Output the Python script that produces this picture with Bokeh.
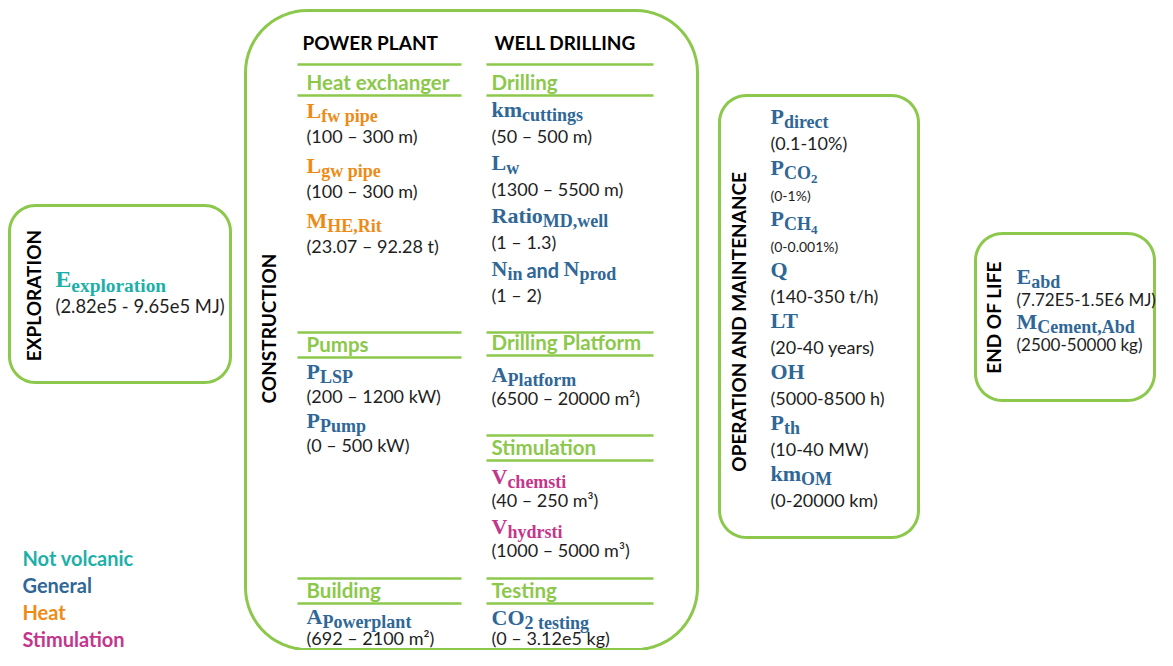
import numpy as np
from bokeh.plotting import figure
from bokeh.models import Range1d
from bokeh.core.properties import value
from bokeh.embed import file_html
from bokeh.resources import INLINE

# ---------------- data ----------------
legend_labels = ["Not volcanic", "General", "Heat", "Stimulation"]
legend_colors = ["#1DB0A8", "#2F6796", "#EE8B16", "#C4368C"]

phase_labels = ["EXPLORATION", "CONSTRUCTION", "OPERATION AND MAINTENANCE", "END OF LIFE"]
construction_columns = ["POWER PLANT", "WELL DRILLING"]
power_plant_sections = ["Heat exchanger", "Pumps", "Building"]
well_drilling_sections = ["Drilling", "Drilling Platform", "Stimulation", "Testing"]

exploration_symbols = ["E_{exploration}"]
exploration_ranges = ["(2.82e5 - 9.65e5 MJ)"]
exploration_groups = ["Not volcanic"]

heat_exchanger_symbols = ["L_{fw pipe}", "L_{gw pipe}", "M_{HE,Rit}"]
heat_exchanger_ranges = ["(100 – 300 m)", "(100 – 300 m)", "(23.07 – 92.28 t)"]
heat_exchanger_groups = ["Heat", "Heat", "Heat"]

pumps_symbols = ["P_{LSP}", "P_{Pump}"]
pumps_ranges = ["(200 – 1200 kW)", "(0 – 500 kW)"]
pumps_groups = ["General", "General"]

building_symbols = ["A_{Powerplant}"]
building_ranges = ["(692 – 2100 m²)"]
building_groups = ["General"]

drilling_symbols = ["km_{cuttings}", "L_{w}", "Ratio_{MD,well}", "N_{in}~{ and }N_{prod}"]
drilling_ranges = ["(50 – 500 m)", "(1300 – 5500 m)", "(1 – 1.3)", "(1 – 2)"]
drilling_groups = ["General", "General", "General", "General"]

platform_symbols = ["A_{Platform}"]
platform_ranges = ["(6500 – 20000 m²)"]
platform_groups = ["General"]

stimulation_symbols = ["V_{chemsti}", "V_{hydrsti}"]
stimulation_ranges = ["(40 – 250 m³)", "(1000 – 5000 m³)"]
stimulation_groups = ["Stimulation", "Stimulation"]

testing_symbols = ["CO_{2 testing}"]
testing_ranges = ["(0 – 3.12e5 kg)"]
testing_groups = ["General"]

om_symbols = ["P_{direct}", "P_{CO_{2}}", "P_{CH_{4}}", "Q", "LT", "OH", "P_{th}", "km_{OM}"]
om_ranges = ["(0.1-10%)", "(0-1%)", "(0-0.001%)", "(140-350 t/h)", "(20-40 years)",
             "(5000-8500 h)", "(10-40 MW)", "(0-20000 km)"]
om_groups = ["General"] * 8

eol_symbols = ["E_{abd}", "M_{Cement,Abd}"]
eol_ranges = ["(7.72E5-1.5E6 MJ)", "(2500-50000 kg)"]
eol_groups = ["General", "General"]

# ---------------- styles / layout ----------------
GREEN = "#8CC84B"
TEXT = "#1E1E1E"
SERIF = "Liberation Serif"
SANS = "Lato"
group_color = dict(zip(legend_labels, legend_colors))

TB = {' ': 250, '(': 333, ')': 333, ',': 250, '.': 250,
      'A': 722, 'B': 667, 'C': 722, 'D': 722, 'E': 667, 'F': 611, 'G': 778, 'H': 778, 'I': 389,
      'J': 500, 'K': 778, 'L': 667, 'M': 944, 'N': 722, 'O': 778, 'P': 611, 'Q': 778, 'R': 722,
      'S': 556, 'T': 667, 'U': 722, 'V': 722, 'W': 1000, 'X': 722, 'Y': 722, 'Z': 667,
      'a': 500, 'b': 556, 'c': 444, 'd': 556, 'e': 444, 'f': 333, 'g': 500, 'h': 556, 'i': 278,
      'j': 333, 'k': 556, 'l': 278, 'm': 833, 'n': 556, 'o': 500, 'p': 556, 'q': 556, 'r': 444,
      's': 389, 't': 333, 'u': 556, 'v': 500, 'w': 722, 'x': 500, 'y': 500, 'z': 444}
LB = {' ': 0.20, 'a': 0.52, 'n': 0.57, 'd': 0.57}

SIZES = {"m": 22, "s": 18, "ss": 13, "t": 20}
DROP = {"m": 0, "s": 4, "ss": 8, "t": 0}
RANGE_SIZE = 18
LIFT = 0.4  # renderer places the alphabetic baseline ~0.4 em lower


def ty(baseline, size):
    return baseline - LIFT * size


def parse(sym):
    segs, stack, buf, i = [], ["m"], "", 0
    while i < len(sym):
        c = sym[i]
        if c in "_~" and i + 1 < len(sym) and sym[i + 1] == "{":
            if buf:
                segs.append((buf, stack[-1]))
            buf = ""
            stack.append("t" if c == "~" else ("s" if stack[-1] == "m" else "ss"))
            i += 2
            continue
        if c == "}":
            if buf:
                segs.append((buf, stack[-1]))
            buf = ""
            stack.pop()
            i += 1
            continue
        buf += c
        i += 1
    if buf:
        segs.append((buf, stack[-1]))
    return segs


def seg_width(t, kind, scale):
    size = SIZES[kind] * scale
    if kind == "t":
        return sum(LB.get(c, 0.55) for c in t) * size
    return sum(TB.get(c, 500) for c in t) / 1000.0 * size


p = figure(width=1157, height=650, x_range=Range1d(0, 1157), y_range=Range1d(650, 0),
           output_backend="svg", toolbar_location=None, min_border=0)
p.axis.visible = False
p.grid.visible = False
p.outline_line_color = None
p.background_fill_color = "white"


def rounded_box(x0, y0, x1, y1, r, n=16):
    xs, ys = [], []
    for cx, cy, a0 in [(x0 + r, y0 + r, 180), (x1 - r, y0 + r, 270),
                       (x1 - r, y1 - r, 0), (x0 + r, y1 - r, 90)]:
        t = np.radians(np.linspace(a0, a0 + 90, n))
        xs.extend(cx + r * np.cos(t))
        ys.extend(cy + r * np.sin(t))
    return xs, ys


boxes = [(9, 205, 230, 382, 26), (245, 10, 697, 649, 62),
         (719, 95, 918, 537, 27), (975, 233, 1154, 400, 27)]
for b in boxes:
    bx, by = rounded_box(*b)
    p.patch(bx, by, fill_color=None, line_color=GREEN, line_width=3)

# vertical phase labels
phase_pos_x = [33, 268, 738, 993]
phase_pos_y = [295, 328, 321, 317]
p.text(x=phase_pos_x, y=phase_pos_y, text=phase_labels, angle=np.pi / 2,
       text_align="center", text_baseline="middle", text_font=value(SANS),
       text_font_style="bold", text_font_size="19px", text_color="black")

# construction column headings
p.text(x=[302, 494], y=[ty(50, 19)] * 2, text=construction_columns, text_font=value(SANS),
       text_font_style="bold", text_font_size="19px", text_color="black",
       text_baseline="alphabetic")

# section header lines & titles
SEC = 20.5
col_text_x = [306, 491]
col_line_x = [(297, 461), (486, 653)]
section_lines = [[(64, 95), (332, 357), (578, 603)],
                 [(64, 95), (332, 355), (435, 460), (578, 603)]]
for ci, names in enumerate([power_plant_sections, well_drilling_sections]):
    x0, x1 = col_line_x[ci]
    ys = [v for pair in section_lines[ci] for v in pair]
    p.segment(x0=[x0] * len(ys), x1=[x1] * len(ys), y0=ys, y1=ys,
              line_color=GREEN, line_width=2.5)
    p.text(x=[col_text_x[ci]] * len(names), y=[ty(b - 5, SEC) for _, b in section_lines[ci]],
           text=names, text_font=value(SANS), text_font_style="bold",
           text_font_size=f"{SEC}px", text_color=GREEN, text_baseline="alphabetic")

# parameter blocks:
# (symbols, ranges, groups, x, first baseline, step, range offset, scale, range sizes)
blocks = [
    (exploration_symbols, exploration_ranges, exploration_groups, 55, 288, 0, 25, 1.08, None),
    (heat_exchanger_symbols, heat_exchanger_ranges, heat_exchanger_groups, 306, 119, 55, 24, 1, None),
    (pumps_symbols, pumps_ranges, pumps_groups, 306, 380, 49, 23, 1, None),
    (building_symbols, building_ranges, building_groups, 306, 625, 0, 20, 1, None),
    (drilling_symbols, drilling_ranges, drilling_groups, 491, 118, 53, 25, 1, None),
    (platform_symbols, platform_ranges, platform_groups, 491, 383, 0, 22, 1, None),
    (stimulation_symbols, stimulation_ranges, stimulation_groups, 491, 485, 50, 22, 1, None),
    (testing_symbols, testing_ranges, testing_groups, 491, 626, 0, 19, 1, None),
    (om_symbols, om_ranges, om_groups, 770, 125, 51, 25, 1,
     [RANGE_SIZE, 14, 14] + [RANGE_SIZE] * 5),
    (eol_symbols, eol_ranges, eol_groups, 1016, 285, 45, 21, 1, [17, 17]),
]

segs_out = {k: dict(x=[], y=[], text=[], color=[], size=[]) for k in SIZES}
rng_out = dict(x=[], y=[], text=[], size=[])
for syms, rngs, grps, bx, by0, step, roff, scale, rsizes in blocks:
    for i, (sym, rg, gp) in enumerate(zip(syms, rngs, grps)):
        yb = by0 + i * step
        cx = bx
        for t, kind in parse(sym):
            lead = len(t) - len(t.lstrip())
            cx += seg_width(" " * lead, kind, scale)
            core = t.strip()
            fs = SIZES[kind] * scale
            d = segs_out[kind]
            d["x"].append(cx)
            d["y"].append(ty(yb + DROP[kind] * scale, fs))
            d["text"].append(core)
            d["color"].append(group_color[gp])
            d["size"].append(f"{fs:.1f}px")
            cx += seg_width(t.lstrip(), kind, scale)
        rs = (rsizes[i] if rsizes else RANGE_SIZE) * (1.0 if scale == 1 else 1.02)
        rng_out["x"].append(bx)
        rng_out["y"].append(ty(yb + roff, rs))
        rng_out["text"].append(rg)
        rng_out["size"].append(f"{rs:.1f}px")

for kind, d in segs_out.items():
    if not d["x"]:
        continue
    p.text(x="x", y="y", text="text", source=d, text_color="color", text_font_size="size",
           text_font=value(SANS if kind == "t" else SERIF), text_font_style="bold",
           text_baseline="alphabetic")
p.text(x="x", y="y", text="text", source=rng_out, text_font_size="size",
       text_font=value(SANS), text_color=TEXT, text_baseline="alphabetic")

# legend
LEG = 20
p.text(x=[22] * 4, y=[ty(565 + 27 * i, LEG) for i in range(4)], text=legend_labels,
       text_color=legend_colors, text_font=value(SANS), text_font_style="bold",
       text_font_size=f"{LEG}px", text_baseline="alphabetic")

open("out.html", "w").write(file_html(p, INLINE))
